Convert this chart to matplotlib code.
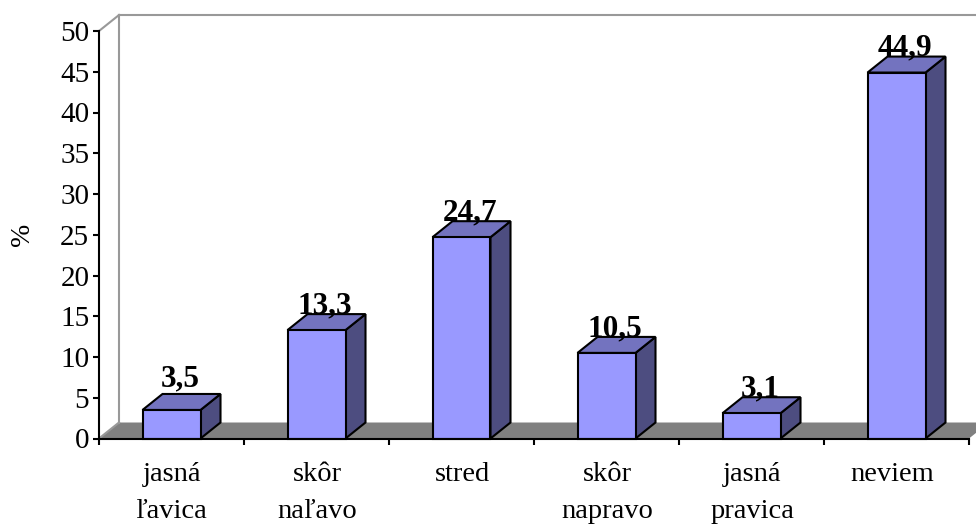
import matplotlib
matplotlib.use('Agg')
import matplotlib.pyplot as plt
from matplotlib.patches import Polygon

categories = ['jasná\nľavica', 'skôr\nnaľavo', 'stred', 'skôr\nnapravo', 'jasná\npravica', 'neviem']
values = [3.5, 13.3, 24.7, 10.5, 3.1, 44.9]
value_labels = ['3,5', '13,3', '24,7', '10,5', '3,1', '44,9']
yticks = [0, 5, 10, 15, 20, 25, 30, 35, 40, 45, 50]

plt.rcParams['font.family'] = ['Liberation Serif', 'DejaVu Serif']

W, H = 976, 524
fig = plt.figure(figsize=(W / 100, H / 100), dpi=100)
# plot area in pixels: x 99-969, y 31-438.5
ax = fig.add_axes([99 / W, 1 - 438.5 / H, 870 / W, 407.5 / H])
ax.set_xlim(0, 6)
ax.set_ylim(0, 50)

# depth of the fake 3d, 20px right and 16px up
dx = 20 / 145
dy = 16 / (407.5 / 50)
bar_w = 0.4

gray = '#999999'
# floor
ax.add_patch(Polygon([(0, 0), (dx, dy), (6 + dx, dy), (6, 0)], fc='#808080', ec='none',
                     clip_on=False, zorder=1))
# back walls
ax.plot([dx, dx], [dy, 50 + dy], color=gray, lw=1.5, clip_on=False, zorder=1)
ax.plot([dx, 6 + dx], [50 + dy, 50 + dy], color=gray, lw=1.5, clip_on=False, zorder=1)
ax.plot([0, dx], [50, 50 + dy], color=gray, lw=1.5, clip_on=False, zorder=1)
ax.plot([0, dx], [0, dy], color=gray, lw=1.5, clip_on=False, zorder=1)

for i, v in enumerate(values):
    x0 = i + 0.5 - bar_w / 2
    x1 = x0 + bar_w
    # side, top, front
    ax.add_patch(Polygon([(x1, 0), (x1 + dx, dy), (x1 + dx, v + dy), (x1, v)], fc='#4D4D80', ec='black',
                         lw=1.5, joinstyle='miter', clip_on=False, zorder=3))
    ax.add_patch(Polygon([(x0, v), (x0 + dx, v + dy), (x1 + dx, v + dy), (x1, v)], fc='#7373BF', ec='black',
                         lw=1.5, joinstyle='miter', clip_on=False, zorder=3))
    ax.add_patch(Polygon([(x0, 0), (x1, 0), (x1, v), (x0, v)], fc='#9999FF', ec='black',
                         lw=1.5, joinstyle='miter', clip_on=False, zorder=4))
    # first label sits a bit higher in the original
    lift = 5.5 if i == 0 else 0.5
    ax.annotate(value_labels[i], (i + 0.5 + dx / 2, v + dy), xytext=(-1, lift), textcoords='offset points',
                ha='center', va='baseline', fontsize=22.5, fontweight='bold', color='black', zorder=5)

for s in ['top', 'right']:
    ax.spines[s].set_visible(False)
for s in ['left', 'bottom']:
    ax.spines[s].set_linewidth(1.5)
    ax.spines[s].set_zorder(6)

ax.set_yticks(yticks)
ax.set_yticklabels([str(t) for t in yticks], fontsize=21)
ax.tick_params(axis='y', length=4.5, width=1.5, pad=2.5)
ax.set_xticks(range(7))
ax.set_xticklabels([])
ax.tick_params(axis='x', length=4.5, width=1.5)
for i, c in enumerate(categories):
    shift = -3 if c == 'neviem' else 0.5
    ax.annotate(c, (i + 0.5, 0), xytext=(shift, -17), textcoords='offset points',
                ha='center', va='top', fontsize=20.5, linespacing=1.6)

fig.text(23 / W, 1 - 234 / H, '%', rotation=90, ha='center', va='center', fontsize=20)

fig.savefig('out.png', dpi=100)
